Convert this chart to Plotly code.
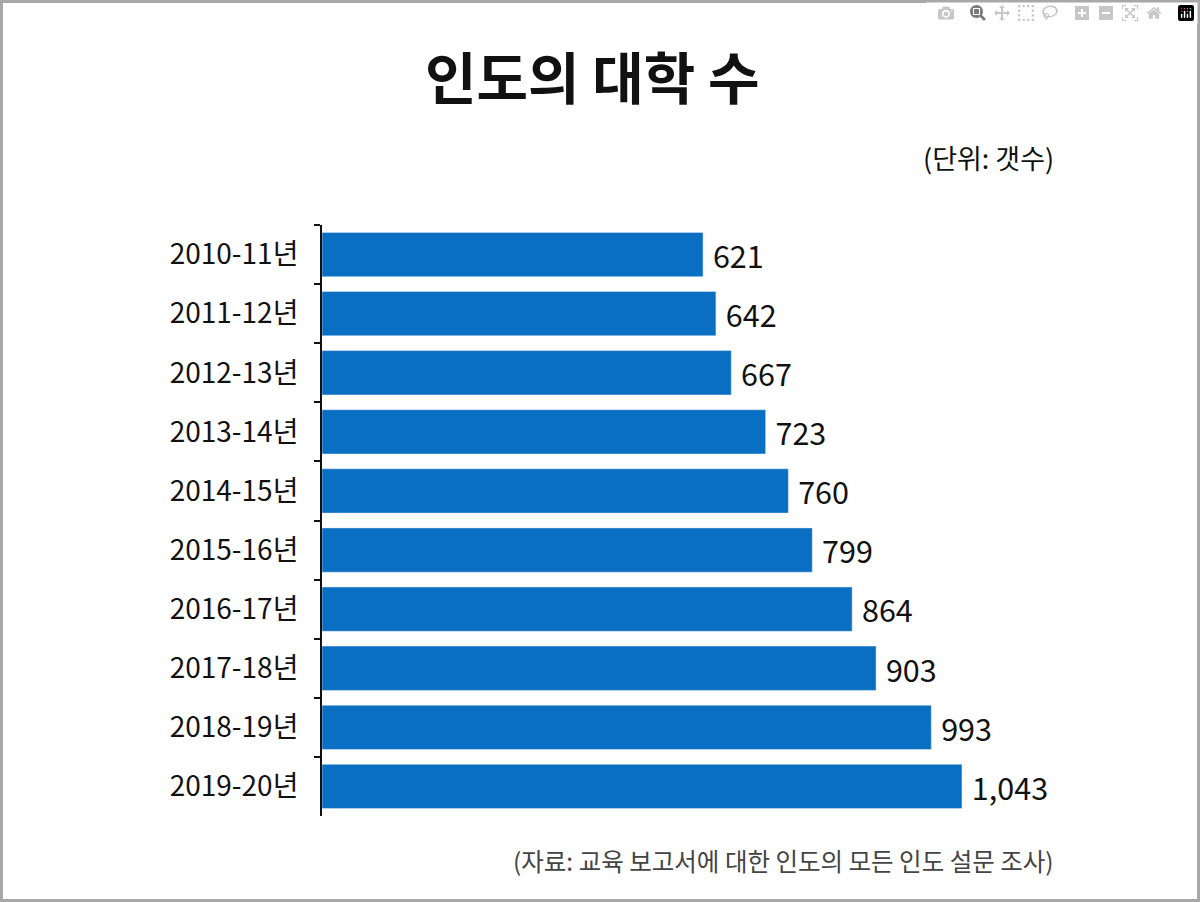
import plotly.graph_objects as go

years = ['2010-11년', '2011-12년', '2012-13년', '2013-14년', '2014-15년',
         '2015-16년', '2016-17년', '2017-18년', '2018-19년', '2019-20년']
counts = [621, 642, 667, 723, 760, 799, 864, 903, 993, 1043]
labels = [f'\u00a0{v:,}' for v in counts]

FONT = 'Noto Sans CJK KR'
W, H = 1200, 902
L, R, T, B = 322, 100, 225, 86
pw, ph = W - L - R, H - T - B

fig = go.Figure(go.Bar(
    x=counts, y=years, orientation='h',
    marker_color='#0a6fc2',
    text=labels, textposition='outside',
    textfont=dict(size=31, color='#111', family=FONT),
    cliponaxis=False,
))

fig.update_layout(
    width=W, height=H,
    margin=dict(l=L, r=R, t=T, b=B),
    plot_bgcolor='white', paper_bgcolor='white',
    bargap=0.25,
    showlegend=False,
    font=dict(family=FONT, color='#111'),
)
fig.update_xaxes(range=[0, pw / 0.6136], visible=False, showgrid=False)
fig.update_yaxes(autorange='reversed', showline=True, linecolor='#111', linewidth=2,
                 ticks='outside', ticklen=6, tickwidth=2, tickcolor='#111',
                 tickson='boundaries', tickfont=dict(size=28, family=FONT, color='#111'),
                 ticklabelstandoff=16, showgrid=False)

# page-level text and frame, positioned in paper coordinates
def px_x(x):
    return (x - L) / pw

def px_y(y):
    return 1 - (y - T) / ph

fig.add_annotation(text='<b>인도의 대학 수</b>', x=px_x(592), y=px_y(75), xref='paper', yref='paper',
                   xanchor='center', yanchor='middle', showarrow=False,
                   font=dict(size=56, family=FONT, color='#111'))
fig.add_annotation(text='(단위: 갯수)', x=px_x(1056), y=px_y(158), xref='paper', yref='paper',
                   xanchor='right', yanchor='middle', showarrow=False,
                   font=dict(size=27, family=FONT, color='#111'))
fig.add_annotation(text='(자료: 교육 보고서에 대한 인도의 모든 인도 설문 조사)', x=px_x(1056), y=px_y(860),
                   xref='paper', yref='paper', xanchor='right', yanchor='middle', showarrow=False,
                   font=dict(size=24.5, family=FONT, color='#444'))
fig.add_shape(type='rect', xref='paper', yref='paper',
              x0=px_x(1.5), x1=px_x(1198.5), y0=px_y(1.5), y1=px_y(900.5),
              line=dict(color='#a8a8a8', width=3))

fig.write_html('out.html', post_script="document.body.style.margin='0';")
